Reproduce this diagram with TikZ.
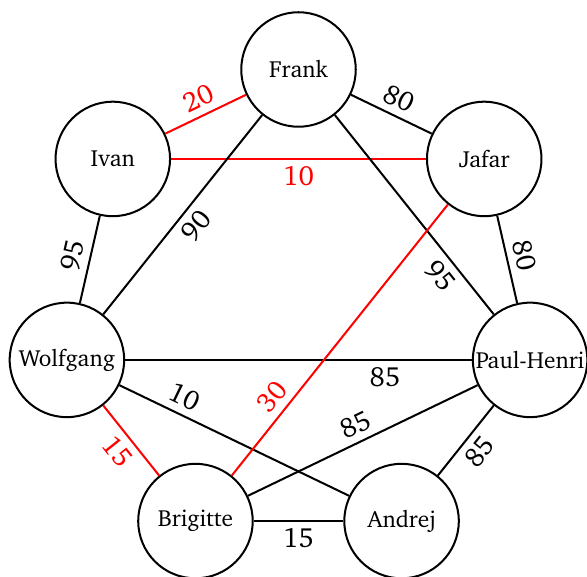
\documentclass[tikz,border=0pt]{standalone}
\usepackage[T1]{fontenc}
\usepackage{charter}
\begin{document}
\begin{tikzpicture}[
  person/.style={circle, draw, line width=1pt, minimum size=2cm, inner sep=0.5pt, font=\fontsize{11.6}{14}\selectfont},
  edge/.style={line width=1pt},
  hot/.style={edge, red},
  wt/.style={font=\fontsize{13.8}{16}\selectfont, sloped}
]
\useasboundingbox (-5.215,-4.70) rectangle (5.04,5.364);
\def\R{4.15}
\node[person] (F) at (90:\R) {Frank};
\node[person] (I) at (141.43:\R) {Ivan};
\node[person] (W) at (192.86:\R) {Wolfgang};
\node[person] (B) at (244.29:\R) {Brigitte};
\node[person] (A) at (295.71:\R) {Andrej};
\node[person] (P) at (347.14:\R) {Paul-Henri};
\node[person] (J) at (38.57:\R) {Jafar};

\draw[hot] (I) -- node[wt, above] {20} (F);
\draw[edge] (F) -- node[wt, above] {80} (J);
\draw[hot] (I) -- node[wt, below] {10} (J);
\draw[edge] (W) -- node[wt, below] {90} (F);
\draw[edge] (W) -- node[wt, above] {95} (I);
\draw[edge] (F) -- node[wt, below, pos=0.75] {95} (P);
\draw[edge] (J) -- node[wt, above] {80} (P);
\draw[edge] (W) -- node[wt, below, pos=0.75] {85} (P);
\draw[edge] (W) -- node[wt, above, pos=0.25] {10} (A);
\draw[hot] (B) -- node[wt, above, pos=0.25] {30} (J);
\draw[edge] (B) -- node[wt, above] {85} (P);
\draw[edge] (A) -- node[wt, below] {85} (P);
\draw[edge] (B) -- node[wt, below] {15} (A);
\draw[hot] (W) -- node[wt, below] {15} (B);
\end{tikzpicture}
\end{document}
